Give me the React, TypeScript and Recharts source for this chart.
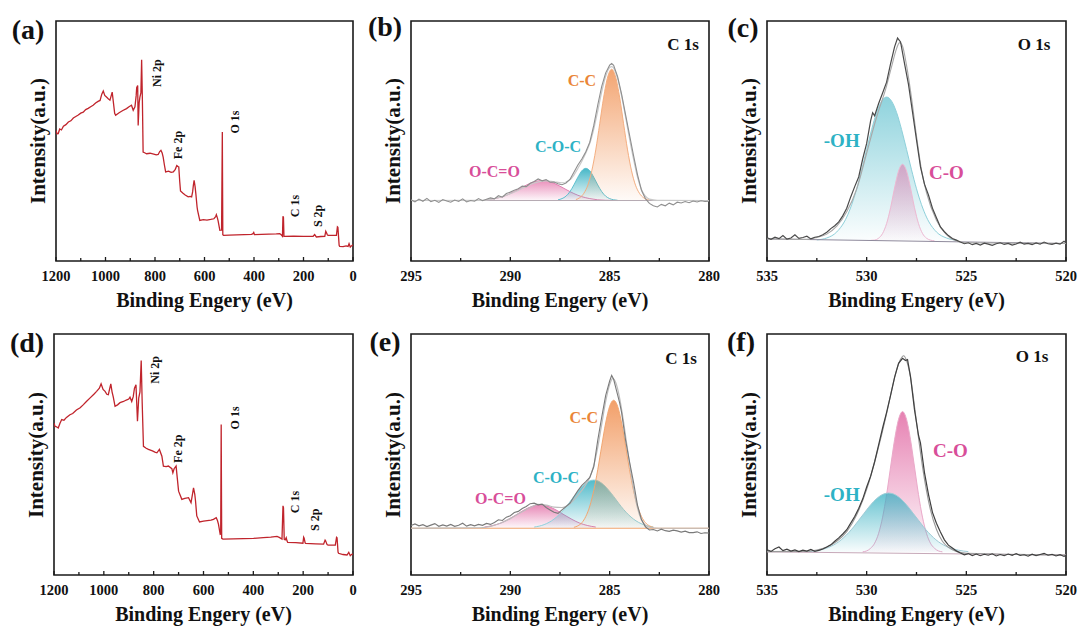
import React from "react";
import { ComposedChart, Area, Line, XAxis, YAxis, ReferenceArea, ReferenceDot } from "recharts";

type Pt = [number, number];

// survey spectra: [binding energy eV, intensity a.u.]
const surveyA: Pt[] = [
  [1200, 54.4], [1196, 53.0], [1191, 53.1], [1185, 55.0], [1178, 54.6], [1170, 56.2], [1160, 56.8], [1150, 57.9],
  [1140, 58.4], [1130, 59.6], [1120, 60.2], [1110, 60.8], [1100, 61.6], [1090, 62.0], [1080, 63.1], [1070, 63.6],
  [1060, 64.3], [1050, 64.9], [1040, 65.8], [1030, 66.5], [1022, 66.9], [1015, 69.5], [1009, 70.8], [1003, 69.0],
  [996, 68.3], [989, 67.6], [982, 67.0], [976, 69.2], [973, 70.4], [968, 66.0], [963, 61.5], [959, 60.7],
  [945, 61.8], [930, 62.7], [915, 63.5], [905, 64.3], [895, 64.9], [888, 62.8], [881, 64.2], [876, 69.0],
  [874, 72.2], [870, 73.1], [868, 56.5], [864, 66.0], [861, 68.3], [857, 70.0], [854, 83.9], [851, 67.5],
  [848, 45.4], [840, 45.0], [834, 44.7], [820, 44.9], [805, 44.5], [795, 44.2], [787, 44.4], [781, 45.6],
  [776, 46.1], [771, 45.0], [767, 43.3], [762, 40.0], [757, 37.1], [745, 37.4], [735, 36.9], [726, 37.1],
  [718, 38.2], [712, 39.8], [707, 39.4], [704, 39.2], [700, 33.0], [697, 29.2], [688, 28.3], [678, 27.5],
  [666, 26.7], [658, 26.9], [652, 26.7], [648, 28.8], [645, 31.5], [642, 33.6], [638, 31.0], [635, 28.1],
  [630, 22.5], [628, 21.1], [619, 16.9], [605, 17.2], [590, 17.0], [575, 17.3], [562, 17.6], [555, 18.5],
  [552, 19.3], [548, 18.0], [545, 16.7], [538, 12.8], [531, 12.9], [528, 53.8], [526, 11.0], [523, 10.7],
  [500, 10.8], [470, 10.9], [440, 11.0], [410, 11.1], [404, 11.4], [401, 11.9], [398, 11.0], [370, 11.1],
  [340, 11.2], [310, 11.3], [296, 11.4], [290, 10.9], [285, 10.3], [283, 18.6], [281, 18.2], [279, 10.3],
  [276, 10.3], [240, 10.4], [200, 10.3], [161, 10.3], [155, 11.0], [148, 10.0], [130, 10.2], [114, 10.3],
  [110, 12.4], [108, 12.0], [104, 11.0], [101, 10.7], [80, 10.7], [67, 10.7], [63, 14.2], [61, 14.0],
  [56, 6.5], [54, 6.1], [40, 6.0], [28, 6.3], [20, 6.1], [16, 7.2], [11, 5.8], [5, 6.4], [0, 6.8],
];

const surveyD: Pt[] = [
  [1200, 63.0], [1196, 61.7], [1190, 61.5], [1183, 61.0], [1176, 63.0], [1169, 64.5], [1160, 64.2], [1150, 65.4],
  [1136, 66.5], [1125, 67.0], [1110, 68.5], [1095, 69.4], [1082, 70.7], [1070, 72.0], [1055, 73.5], [1040, 75.0],
  [1029, 76.2], [1018, 77.5], [1011, 79.3], [1003, 77.0], [995, 76.2], [988, 75.0], [982, 74.8], [976, 77.5],
  [972, 79.3], [967, 76.0], [962, 73.8], [955, 70.0], [945, 70.6], [935, 71.5], [921, 72.0], [910, 72.6],
  [900, 73.0], [895, 73.8], [888, 72.0], [882, 74.0], [877, 77.5], [871, 78.9], [865, 63.8], [860, 73.4],
  [855, 76.0], [850, 89.0], [846, 71.3], [841, 53.4], [830, 52.6], [821, 52.1], [805, 51.5], [795, 51.0],
  [787, 50.7], [777, 52.1], [767, 49.3], [761, 45.2], [750, 45.0], [741, 45.2], [727, 44.1], [723, 42.4],
  [718, 44.1], [710, 45.2], [705, 40.0], [700, 34.8], [687, 31.4], [675, 31.8], [660, 32.1], [650, 30.0],
  [645, 33.0], [640, 36.2], [635, 33.5], [632, 30.7], [627, 24.5], [616, 22.0], [600, 22.4], [585, 22.6],
  [570, 22.8], [560, 23.1], [549, 23.8], [544, 22.6], [540, 21.1], [533, 16.9], [531, 17.0], [529, 62.4],
  [527, 15.2], [522, 14.9], [480, 15.0], [440, 15.1], [399, 15.2], [360, 15.5], [330, 15.7], [305, 16.0],
  [296, 15.6], [285, 14.9], [281, 28.7], [279, 28.0], [276, 14.8], [272, 14.6], [268, 15.5], [265, 14.2],
  [262, 13.5], [230, 13.4], [201, 13.2], [198, 15.7], [196, 15.3], [192, 13.3], [190, 13.1], [150, 12.9],
  [118, 12.8], [112, 14.5], [110, 14.2], [104, 12.6], [100, 12.4], [71, 12.4], [66, 15.6], [64, 15.4],
  [60, 9.5], [58, 9.0], [40, 8.5], [24, 8.3], [17, 9.4], [11, 8.0], [5, 8.6], [0, 8.7],
];

// C 1s, sample (b)
const rawB: Pt[] = [
  [295.0, 25.5], [294.8, 24.6], [294.6, 25.8], [294.4, 24.9], [294.2, 26.1], [294.0, 24.7], [293.8, 25.3], [293.6, 24.4],
  [293.4, 25.6], [293.2, 25.0], [293.0, 24.5], [292.8, 25.4], [292.6, 24.8], [292.4, 25.9], [292.2, 24.6], [292.0, 25.2],
  [291.8, 24.9], [291.6, 26.0], [291.4, 25.1], [291.2, 25.7], [291.0, 26.3], [290.8, 25.9], [290.6, 27.2], [290.4, 26.6],
  [290.2, 28.1], [290.0, 28.7], [289.8, 29.5], [289.6, 30.1], [289.4, 31.2], [289.2, 31.0], [289.0, 32.4], [288.8, 33.1],
  [288.6, 34.2], [288.4, 33.4], [288.2, 33.9], [288.0, 32.8], [287.8, 32.9], [287.6, 32.2], [287.4, 31.8], [287.2, 32.5],
  [287.0, 34.0], [286.8, 37.0], [286.6, 40.0], [286.4, 42.5], [286.2, 45.5], [286.0, 49.5], [285.8, 56.5], [285.6, 65.0],
  [285.4, 72.8], [285.2, 78.4], [285.0, 81.6], [284.9, 82.3], [284.8, 81.5], [284.6, 76.8], [284.4, 69.5], [284.2, 61.0],
  [284.0, 52.5], [283.8, 44.0], [283.6, 36.0], [283.4, 29.5], [283.2, 26.0], [283.0, 24.0], [282.8, 23.0], [282.6, 22.5],
  [282.4, 23.6], [282.2, 23.0], [282.0, 24.1], [281.8, 23.4], [281.6, 24.5], [281.4, 24.2], [281.2, 24.8], [281.0, 24.3],
  [280.8, 25.0], [280.6, 24.6], [280.4, 25.1], [280.2, 24.8], [280.0, 24.9],
];
const envB: Pt[] = [
  [295, 25.2], [291.5, 25.3], [291, 25.7], [290.5, 26.6], [290, 28.0], [289.5, 29.9], [289, 31.9], [288.6, 33.0],
  [288.2, 33.4], [287.8, 33.0], [287.4, 32.6], [287.0, 33.8], [286.8, 35.8], [286.6, 38.6], [286.4, 41.6], [286.2, 45.0],
  [286.0, 49.0], [285.8, 55.0], [285.6, 62.5], [285.4, 70.5], [285.2, 77.0], [285.0, 80.6], [284.9, 81.0], [284.8, 80.4],
  [284.6, 76.0], [284.4, 68.8], [284.2, 60.0], [284.0, 51.0], [283.8, 42.5], [283.6, 35.0], [283.4, 29.8], [283.2, 27.0],
  [283.0, 25.8], [282.6, 25.3], [280, 25.2],
];
const ccB: Pt[] = [
  [286.7, 25.6], [286.5, 26.4], [286.3, 28.2], [286.1, 31.6], [285.9, 37.6], [285.7, 46.3], [285.5, 57.2], [285.3, 68.3],
  [285.1, 76.7], [284.9, 79.9], [284.7, 76.7], [284.5, 68.3], [284.3, 57.2], [284.1, 46.3], [283.9, 37.6], [283.7, 31.6],
  [283.5, 28.2], [283.3, 26.4], [283.1, 25.6], [282.9, 25.3],
];
const cocB: Pt[] = [
  [287.6, 25.5], [287.4, 26.0], [287.2, 27.0], [287.0, 28.9], [286.8, 31.7], [286.6, 34.9], [286.4, 37.6], [286.2, 38.6],
  [286.0, 37.6], [285.8, 34.9], [285.6, 31.7], [285.4, 28.9], [285.2, 27.0], [285.0, 26.0], [284.8, 25.5], [284.6, 25.3],
];
const ocoB: Pt[] = [
  [291.2, 25.5], [290.8, 26.0], [290.4, 26.8], [290.0, 28.1], [289.6, 29.8], [289.2, 31.6], [288.8, 33.0], [288.4, 33.5],
  [288.0, 33.0], [287.6, 31.6], [287.2, 29.8], [286.8, 28.1], [286.4, 26.8], [286.0, 26.0], [285.6, 25.5], [285.2, 25.3],
  [284.6, 25.2],
];
const baseB: Pt[] = [[295, 25.2], [280, 25.2]];
const levelB = 25.2;

// O 1s, sample (c)
const rawC: Pt[] = [
  [535.0, 9.7], [534.8, 9.0], [534.6, 9.9], [534.4, 9.3], [534.2, 10.6], [534.0, 9.1], [533.8, 9.6], [533.6, 10.9],
  [533.4, 9.4], [533.2, 9.8], [533.0, 10.3], [532.8, 9.2], [532.6, 9.9], [532.4, 10.2], [532.2, 10.9], [532.0, 12.0],
  [531.8, 13.5], [531.6, 14.7], [531.4, 16.3], [531.2, 18.8], [531.0, 22.0], [530.8, 26.7], [530.6, 31.0], [530.4, 35.0],
  [530.2, 42.5], [530.0, 49.0], [529.8, 58.5], [529.7, 61.8], [529.6, 60.5], [529.4, 65.6], [529.2, 70.0], [529.0, 74.5],
  [528.8, 82.2], [528.6, 89.2], [528.45, 92.9], [528.3, 91.3], [528.1, 82.2], [527.9, 73.5], [527.7, 62.0], [527.5, 50.5],
  [527.3, 39.2], [527.1, 32.0], [526.9, 27.5], [526.7, 22.0], [526.5, 18.0], [526.3, 14.2], [526.1, 12.2], [525.9, 10.6],
  [525.7, 9.4], [525.5, 8.7], [525.3, 7.9], [525.1, 7.2], [524.9, 7.6], [524.7, 6.8], [524.5, 7.3], [524.3, 6.6],
  [524.1, 7.4], [523.9, 7.0], [523.7, 6.5], [523.5, 7.2], [523.3, 7.6], [523.1, 6.9], [522.9, 7.3], [522.7, 6.6],
  [522.5, 7.1], [522.3, 7.8], [522.1, 7.0], [521.9, 7.3], [521.7, 6.8], [521.5, 7.5], [521.3, 7.0], [521.1, 7.9],
  [520.9, 7.2], [520.7, 6.9], [520.5, 7.4], [520.3, 7.0], [520.1, 8.2], [520.0, 7.6],
];
const envC: Pt[] = [
  [535, 9.2], [533, 9.0], [532.5, 9.8], [532, 11.2], [531.5, 14.5], [531, 20.5], [530.5, 30.0], [530, 45.0],
  [529.5, 60.0], [529, 73.0], [528.75, 81.0], [528.5, 88.5], [528.35, 91.0], [528.2, 89.5], [528, 81.5], [527.75, 68.0],
  [527.5, 52.0], [527.25, 38.0], [527, 28.5], [526.5, 17.0], [526, 11.0], [525.5, 8.3], [525, 7.6], [520, 7.3],
];
const ohC: Pt[] = [
  [532.5, 8.8], [532.0, 9.6], [531.5, 12.1], [531.0, 18.3], [530.75, 23.5], [530.5, 30.1], [530.25, 38.0], [530.0, 46.5],
  [529.75, 54.8], [529.5, 61.9], [529.25, 66.6], [529.0, 68.3], [528.75, 66.6], [528.5, 61.9], [528.25, 54.8], [528.0, 46.5],
  [527.75, 38.0], [527.5, 30.1], [527.25, 23.5], [527.0, 18.3], [526.5, 12.1], [526.0, 9.6], [525.5, 8.7],
];
const coC: Pt[] = [
  [529.8, 8.6], [529.6, 8.7], [529.4, 9.5], [529.2, 11.5], [529.0, 15.6], [528.8, 22.2], [528.6, 30.4], [528.4, 37.5],
  [528.2, 40.3], [528.0, 37.5], [527.8, 30.4], [527.6, 22.2], [527.4, 15.6], [527.2, 11.5], [527.0, 9.5], [526.8, 8.7],
  [526.6, 8.4],
];
const baseC: Pt[] = [[535, 9.2], [520, 7.3]];
const levelC = 8.5;

// C 1s, sample (e)
const rawE: Pt[] = [
  [295.0, 20.5], [294.8, 21.2], [294.6, 20.4], [294.4, 20.9], [294.2, 20.1], [294.0, 20.7], [293.8, 21.3], [293.6, 20.2],
  [293.4, 20.8], [293.2, 20.3], [293.0, 21.0], [292.8, 20.2], [292.6, 20.6], [292.4, 21.5], [292.2, 20.3], [292.0, 20.9],
  [291.8, 20.4], [291.6, 21.0], [291.4, 20.6], [291.2, 21.4], [291.0, 21.0], [290.8, 21.8], [290.6, 22.9], [290.4, 22.6],
  [290.2, 24.0], [290.0, 24.6], [289.8, 25.9], [289.6, 26.4], [289.4, 27.6], [289.2, 28.4], [289.0, 29.6], [288.8, 29.8],
  [288.6, 29.1], [288.4, 29.4], [288.2, 28.0], [288.0, 27.0], [287.8, 26.0], [287.6, 25.6], [287.4, 27.0], [287.2, 28.4],
  [287.0, 29.8], [286.8, 32.5], [286.6, 35.0], [286.4, 37.2], [286.2, 38.7], [286.0, 40.5], [285.8, 44.9], [285.6, 55.9],
  [285.4, 65.5], [285.2, 74.5], [285.0, 80.5], [284.9, 82.8], [284.8, 81.2], [284.7, 78.0], [284.5, 71.5], [284.4, 67.5],
  [284.2, 56.0], [284.0, 47.0], [283.8, 38.5], [283.6, 29.0], [283.4, 23.0], [283.2, 20.0], [283.0, 18.7], [282.8, 18.9],
  [282.6, 18.3], [282.4, 19.0], [282.2, 18.4], [282.0, 18.1], [281.8, 18.6], [281.6, 18.3], [281.4, 17.8], [281.2, 18.2],
  [281.0, 17.6], [280.8, 17.6], [280.6, 17.9], [280.4, 17.2], [280.2, 17.5], [280.0, 17.4],
];
const envE: Pt[] = [
  [295, 19.4], [291.5, 19.6], [291, 20.2], [290.5, 21.5], [290, 23.4], [289.5, 25.8], [289, 28.0], [288.6, 29.3],
  [288.2, 29.0], [287.8, 28.2], [287.4, 28.0], [287.0, 29.6], [286.6, 33.0], [286.2, 37.5], [286.0, 40.5], [285.8, 45.5],
  [285.6, 53.0], [285.4, 62.5], [285.2, 72.0], [285.0, 79.0], [284.85, 81.5], [284.7, 80.0], [284.5, 73.5], [284.3, 63.5],
  [284.1, 52.0], [283.9, 41.0], [283.7, 31.5], [283.5, 25.0], [283.3, 21.5], [283.0, 19.8], [282.5, 19.4], [280, 19.4],
];
const ccE: Pt[] = [
  [286.8, 19.8], [286.6, 20.4], [286.4, 21.7], [286.2, 24.3], [286.0, 28.6], [285.8, 35.1], [285.6, 43.7], [285.4, 53.6],
  [285.2, 63.1], [285.0, 70.0], [284.8, 72.5], [284.6, 70.0], [284.4, 63.1], [284.2, 53.6], [284.0, 43.7], [283.8, 35.1],
  [283.6, 28.6], [283.4, 24.3], [283.2, 21.7], [283.0, 20.4], [282.8, 19.8],
];
const cocE: Pt[] = [
  [288.8, 19.9], [288.3, 20.9], [287.8, 23.2], [287.55, 25.0], [287.3, 27.2], [287.05, 29.8], [286.8, 32.6], [286.55, 35.2],
  [286.3, 37.4], [286.05, 38.9], [285.8, 39.4], [285.55, 38.9], [285.3, 37.4], [285.05, 35.2], [284.8, 32.6], [284.55, 29.8],
  [284.3, 27.2], [284.05, 25.0], [283.8, 23.2], [283.3, 20.9], [282.8, 19.9],
];
const ocoE: Pt[] = [
  [291.3, 19.9], [290.9, 20.5], [290.5, 21.5], [290.1, 23.1], [289.7, 25.0], [289.3, 27.0], [288.9, 28.5], [288.5, 29.1],
  [288.1, 28.5], [287.7, 27.0], [287.3, 25.0], [286.9, 23.1], [286.5, 21.5], [286.1, 20.5], [285.7, 19.9],
];
const baseE: Pt[] = [[295, 19.4], [280, 19.4]];
const levelE = 19.4;

// O 1s, sample (f)
const rawF: Pt[] = [
  [535.0, 10.5], [534.8, 9.8], [534.6, 10.9], [534.4, 11.6], [534.2, 10.1], [534.0, 10.7], [533.8, 9.9], [533.6, 10.4],
  [533.4, 9.7], [533.2, 10.3], [533.0, 9.9], [532.8, 10.6], [532.6, 9.8], [532.4, 10.2], [532.2, 10.8], [532.0, 11.6],
  [531.8, 12.5], [531.6, 14.0], [531.4, 15.4], [531.2, 17.0], [531.0, 18.8], [530.8, 21.5], [530.6, 24.3], [530.4, 27.6],
  [530.2, 31.5], [530.0, 36.5], [529.8, 41.0], [529.6, 47.0], [529.4, 54.0], [529.2, 61.0], [529.0, 67.5], [528.8, 74.5],
  [528.6, 82.0], [528.4, 87.8], [528.2, 89.9], [528.05, 89.0], [527.95, 89.4], [527.8, 82.3], [527.6, 68.5], [527.4, 58.0],
  [527.3, 54.7], [527.1, 42.5], [526.9, 33.5], [526.7, 26.0], [526.5, 21.5], [526.3, 17.8], [526.1, 14.6], [525.9, 12.4],
  [525.7, 11.2], [525.5, 10.0], [525.3, 9.1], [525.1, 8.4], [524.9, 8.9], [524.7, 8.1], [524.5, 8.7], [524.3, 8.0],
  [524.1, 8.6], [523.9, 8.2], [523.7, 8.8], [523.5, 7.9], [523.3, 8.5], [523.1, 8.0], [522.9, 8.7], [522.7, 8.2],
  [522.5, 8.9], [522.3, 8.1], [522.1, 8.4], [521.9, 7.8], [521.7, 8.6], [521.5, 8.0], [521.3, 8.5], [521.1, 9.0],
  [520.9, 8.2], [520.7, 8.6], [520.5, 7.9], [520.3, 8.4], [520.1, 7.7], [520.0, 8.2],
];
const envF: Pt[] = [
  [535, 9.7], [533, 9.8], [532.5, 10.4], [532, 11.6], [531.5, 14.0], [531, 18.0], [530.5, 25.0], [530, 35.5],
  [529.5, 50.0], [529, 67.0], [528.75, 76.5], [528.5, 85.0], [528.3, 89.5], [528.15, 91.0], [528.0, 89.0], [527.8, 82.0],
  [527.6, 70.0], [527.4, 57.0], [527.2, 45.0], [527.0, 35.0], [526.8, 27.0], [526.5, 19.0], [526.2, 14.0], [525.9, 11.5],
  [525.5, 9.8], [525, 9.0], [520, 8.3],
];
const coF: Pt[] = [
  [530.2, 9.6], [530.0, 10.0], [529.8, 11.1], [529.6, 13.2], [529.4, 17.3], [529.2, 24.0], [529.0, 33.4], [528.8, 44.8],
  [528.6, 56.1], [528.4, 64.6], [528.2, 67.8], [528.0, 64.6], [527.8, 56.1], [527.6, 44.8], [527.4, 33.4], [527.2, 24.0],
  [527.0, 17.3], [526.8, 13.2], [526.6, 11.1], [526.4, 10.0], [526.2, 9.6],
];
const ohF: Pt[] = [
  [532.9, 9.7], [532.4, 10.3], [531.9, 11.5], [531.4, 13.8], [530.9, 17.6], [530.65, 20.0], [530.4, 22.7], [530.15, 25.4],
  [529.9, 28.1], [529.65, 30.5], [529.4, 32.4], [529.15, 33.6], [528.9, 34.0], [528.65, 33.6], [528.4, 32.4], [528.15, 30.5],
  [527.9, 28.1], [527.65, 25.4], [527.4, 22.7], [527.15, 20.0], [526.9, 17.6], [526.4, 13.8], [525.9, 11.5], [525.4, 10.3],
  [524.9, 9.7],
];
const baseF: Pt[] = [[535, 9.6], [520, 8.3]];
const levelF = 9.4;

// axis ticks
const surveyTicks = [1200, 1100, 1000, 900, 800, 700, 600, 500, 400, 300, 200, 100, 0];
const surveyLabels = [1200, 1000, 800, 600, 400, 200, 0];
const c1sTicks = [295, 292.5, 290, 287.5, 285, 282.5, 280];
const c1sLabels = [295, 290, 285, 280];
const o1sTicks = [535, 532.5, 530, 527.5, 525, 522.5, 520];
const o1sLabels = [535, 530, 525, 520];

const SERIF = "'Times New Roman', 'Liberation Serif', serif";
const RED = "#C0242C";
const ORANGE = "#F08E4E";
const TEAL = "#33AFC1";
const PINK = "#E0629F";
const ORANGE_TXT = "#EA8638";
const TEAL_TXT = "#2DB2C5";
const PINK_TXT = "#D84E99";
const TICK_GAP = 10;

const rows = (pts: Pt[]) => pts.map(([x, y]) => ({ x, y }));

function tickRenderer(labels: number[]) {
  return (props: any) => {
    const { x, y, payload } = props;
    const v = payload.value;
    const axisY = y - TICK_GAP;
    const major = labels.includes(v);
    return (
      <g>
        <line x1={x} x2={x} y1={axisY} y2={axisY - (major ? 4 : 3)} stroke="#1a1a1a" strokeWidth={1.3} />
        {major && (
          <text x={x} y={axisY + 15} dy="0.35em" textAnchor="middle" fontFamily={SERIF} fontWeight="bold" fontSize={14.5} fill="#111">
            {v}
          </text>
        )}
      </g>
    );
  };
}

const tag = (key: string, x: number, y: number, text: string, color: string, size: number, rotate = false) => (
  <ReferenceDot
    key={key}
    x={x}
    y={y}
    r={0}
    ifOverflow="visible"
    shape={(p: any) => (
      <text
        x={p.cx}
        y={p.cy}
        transform={rotate ? `rotate(-90 ${p.cx} ${p.cy})` : undefined}
        textAnchor="middle"
        dominantBaseline="central"
        fontFamily={SERIF}
        fontWeight="bold"
        fontSize={size}
        fill={color}
      >
        {text}
      </text>
    )}
  />
);

const grad = (id: string, color: string, topOp = 0.85, bottomOp = 0.04) => (
  <linearGradient id={id} x1="0" y1="0" x2="0" y2="1">
    <stop offset="0%" stopColor={color} stopOpacity={topOp} />
    <stop offset="100%" stopColor={color} stopOpacity={bottomOp} />
  </linearGradient>
);

const line = (key: string, pts: Pt[], stroke: string, width = 1.2, smooth = false) => (
  <Line
    key={key}
    data={rows(pts)}
    dataKey="y"
    type={smooth ? "monotone" : "linear"}
    stroke={stroke}
    strokeWidth={width}
    dot={false}
    activeDot={false}
    isAnimationActive={false}
  />
);

const peak = (key: string, pts: Pt[], level: number, fillId: string, stroke: string) => (
  <Area
    key={key}
    data={rows(pts)}
    dataKey="y"
    type="monotone"
    baseValue={level}
    fill={`url(#${fillId})`}
    fillOpacity={1}
    stroke={stroke}
    strokeWidth={1}
    dot={false}
    activeDot={false}
    isAnimationActive={false}
  />
);

interface PanelProps {
  left: number;
  top: number;
  width: number;
  height: number;
  margin: { top: number; right: number; bottom: number; left: number };
  domain: [number, number];
  ticks: number[];
  labels: number[];
  letter: string;
  letterPos: [number, number];
  children: React.ReactNode;
}

function Panel({ left, top, width, height, margin, domain, ticks, labels, letter, letterPos, children }: PanelProps) {
  const plotLeft = left + margin.left;
  const plotRight = left + width - margin.right;
  const plotTop = top + margin.top;
  const plotBottom = top + height - margin.bottom - 30;
  const text: React.CSSProperties = {
    position: "absolute",
    fontFamily: SERIF,
    fontWeight: "bold",
    color: "#111",
    whiteSpace: "nowrap",
    lineHeight: 1,
  };
  return (
    <>
      <div style={{ position: "absolute", left, top, width, height }}>
        <ComposedChart width={width} height={height} margin={margin}>
          <XAxis
            type="number"
            dataKey="x"
            domain={domain}
            reversed
            allowDataOverflow
            ticks={ticks}
            interval={0}
            tickLine={false}
            axisLine={false}
            tickSize={0}
            tickMargin={TICK_GAP}
            height={30}
            tick={tickRenderer(labels)}
          />
          <YAxis hide type="number" domain={[0, 100]} allowDataOverflow />
          {children}
          <ReferenceArea
            x1={domain[0]}
            x2={domain[1]}
            y1={0}
            y2={100}
            fill="none"
            fillOpacity={0}
            stroke="#1a1a1a"
            strokeWidth={1.6}
            ifOverflow="visible"
          />
        </ComposedChart>
      </div>
      <div style={{ ...text, fontSize: 28, left: letterPos[0], top: letterPos[1], transform: "translate(-50%, -50%)" }}>
        {letter}
      </div>
      <div
        style={{
          ...text,
          fontSize: 20,
          left: (plotLeft + plotRight) / 2,
          top: plotBottom + 39,
          transform: "translate(-50%, -50%)",
        }}
      >
        Binding Engery (eV)
      </div>
      <div
        style={{
          ...text,
          fontSize: 21,
          left: plotLeft - 18,
          top: (plotTop + plotBottom) / 2,
          transform: "translate(-50%, -50%) rotate(-90deg)",
        }}
      >
        Intensity(a.u.)
      </div>
    </>
  );
}

const ROW1 = { top: 0, height: 310, mTop: 21, mBottom: 19 };
const ROW2 = { top: 310, height: 321, mTop: 24, mBottom: 26 };

export default function App() {
  return (
    <div style={{ position: "absolute", left: 0, top: 0, width: 1078, height: 631, background: "#fff", overflow: "hidden" }}>
      {/* (a) survey */}
      <Panel
        left={0} top={ROW1.top} width={360} height={ROW1.height}
        margin={{ top: ROW1.mTop, right: 7, bottom: ROW1.mBottom, left: 56 }}
        domain={[0, 1200]} ticks={surveyTicks} labels={surveyLabels}
        letter="(a)" letterPos={[28, 30]}
      >
        {line("sa", surveyA, RED, 1.3)}
        {tag("a1", 792, 78.3, "Ni 2p", "#111", 12, true)}
        {tag("a2", 707, 48.3, "Fe 2p", "#111", 12, true)}
        {tag("a3", 477, 57.9, "O 1s", "#111", 12, true)}
        {tag("a4", 234, 22.9, "C 1s", "#111", 12, true)}
        {tag("a5", 141, 18.8, "S 2p", "#111", 12, true)}
      </Panel>

      {/* (b) C 1s */}
      <Panel
        left={360} top={ROW1.top} width={360} height={ROW1.height}
        margin={{ top: ROW1.mTop, right: 11, bottom: ROW1.mBottom, left: 51 }}
        domain={[280, 295]} ticks={c1sTicks} labels={c1sLabels}
        letter="(b)" letterPos={[385, 27]}
      >
        <defs>
          {grad("gOrB", ORANGE, 0.8, 0.04)}
          {grad("gTeB", TEAL, 0.9, 0.05)}
          {grad("gPiB", PINK, 0.7, 0.05)}
        </defs>
        {line("bb", baseB, "#b5aab2", 1)}
        {peak("ob", ocoB, levelB, "gPiB", "#E27FB3")}
        {peak("cb", cocB, levelB, "gTeB", "#5CC0CF")}
        {peak("kb", ccB, levelB, "gOrB", "#F4AE80")}
        {line("eb", envB, "#c9c9c9", 1.2, true)}
        {line("rb", rawB, "#8e8e8e", 1.1)}
        {tag("b1", 281.3, 90.4, "C 1s", "#111", 17)}
        {tag("b2", 286.4, 75.4, "C-C", ORANGE_TXT, 16)}
        {tag("b3", 287.6, 47.6, "C-O-C", TEAL_TXT, 16)}
        {tag("b4", 290.8, 37.2, "O-C=O", PINK_TXT, 16)}
      </Panel>

      {/* (c) O 1s */}
      <Panel
        left={718} top={ROW1.top} width={360} height={ROW1.height}
        margin={{ top: ROW1.mTop, right: 12, bottom: ROW1.mBottom, left: 49 }}
        domain={[520, 535]} ticks={o1sTicks} labels={o1sLabels}
        letter="(c)" letterPos={[743, 28]}
      >
        <defs>
          {grad("gTeC", TEAL, 0.55, 0.02)}
          {grad("gPiC", PINK, 0.5, 0.02)}
        </defs>
        {line("bc", baseC, "#8f8a9c", 1)}
        {peak("oc", ohC, levelC, "gTeC", "#8ED0DA")}
        {peak("pc", coC, levelC, "gPiC", "#EDB8D2")}
        {line("ec", envC, "#a8a8a8", 1.1, true)}
        {line("rc", rawC, "#4a4a4a", 1.2)}
        {tag("c1", 521.6, 90.3, "O 1s", "#111", 17)}
        {tag("c2", 531.25, 50.4, "-OH", TEAL_TXT, 19)}
        {tag("c3", 526.0, 36.9, "C-O", PINK_TXT, 19)}
      </Panel>

      {/* (d) survey */}
      <Panel
        left={0} top={ROW2.top} width={360} height={ROW2.height}
        margin={{ top: ROW2.mTop, right: 7, bottom: ROW2.mBottom, left: 54 }}
        domain={[0, 1200]} ticks={surveyTicks} labels={surveyLabels}
        letter="(d)" letterPos={[27, 343]}
      >
        {line("sd", surveyD, RED, 1.3)}
        {tag("d1", 795, 85.1, "Ni 2p", "#111", 12, true)}
        {tag("d2", 701, 52.4, "Fe 2p", "#111", 12, true)}
        {tag("d3", 473, 65.2, "O 1s", "#111", 12, true)}
        {tag("d4", 233, 30.3, "C 1s", "#111", 12, true)}
        {tag("d5", 152, 22.9, "S 2p", "#111", 12, true)}
      </Panel>

      {/* (e) C 1s */}
      <Panel
        left={360} top={ROW2.top} width={360} height={ROW2.height}
        margin={{ top: ROW2.mTop, right: 11, bottom: ROW2.mBottom, left: 51 }}
        domain={[280, 295]} ticks={c1sTicks} labels={c1sLabels}
        letter="(e)" letterPos={[385, 342]}
      >
        <defs>
          {grad("gOrE", ORANGE, 0.85, 0.04)}
          {grad("gTeE", TEAL, 0.85, 0.04)}
          {grad("gPiE", PINK, 0.75, 0.04)}
        </defs>
        {peak("oe", ocoE, levelE, "gPiE", "#E27FB3")}
        {peak("ce", cocE, levelE, "gTeE", "#8FD2DC")}
        {peak("ke", ccE, levelE, "gOrE", "#F2A670")}
        {line("be", baseE, "#F0A56E", 1.2)}
        {line("ee", envE, "#bdbdbd", 1.2, true)}
        {line("re", rawE, "#7a7a7a", 1.1)}
        {tag("e1", 281.4, 89.9, "C 1s", "#111", 17)}
        {tag("e2", 286.3, 65.4, "C-C", ORANGE_TXT, 16)}
        {tag("e3", 287.7, 40.6, "C-O-C", TEAL_TXT, 16)}
        {tag("e4", 290.5, 31.7, "O-C=O", PINK_TXT, 16)}
      </Panel>

      {/* (f) O 1s */}
      <Panel
        left={718} top={ROW2.top} width={360} height={ROW2.height}
        margin={{ top: ROW2.mTop, right: 12, bottom: ROW2.mBottom, left: 49 }}
        domain={[520, 535]} ticks={o1sTicks} labels={o1sLabels}
        letter="(f)" letterPos={[741, 342]}
      >
        <defs>
          {grad("gTeF", TEAL, 0.75, 0.03)}
          {grad("gPiF", PINK, 0.8, 0.03)}
        </defs>
        {line("bf", baseF, "#c7a9b9", 1)}
        {peak("pf", coF, levelF, "gPiF", "#EAA9C9")}
        {peak("of", ohF, levelF, "gTeF", "#9FCBD6")}
        {line("ef", envF, "#9a9a9a", 1.1, true)}
        {line("rf", rawF, "#3f3f3f", 1.2)}
        {tag("f1", 521.7, 90.6, "O 1s", "#111", 17)}
        {tag("f2", 525.8, 51.6, "C-O", PINK_TXT, 19)}
        {tag("f3", 531.25, 33.5, "-OH", TEAL_TXT, 19)}
      </Panel>
    </div>
  );
}
